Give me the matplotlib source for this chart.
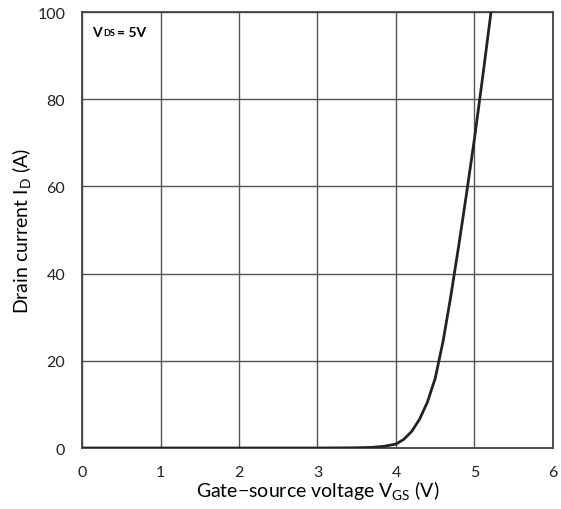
import matplotlib.pyplot as plt
import numpy as np

# duong dac tinh truyen dat ID - VGS (doc tu hinh)
vgs = np.array([0, 3.0, 3.5, 3.7, 3.85, 4.0, 4.1, 4.2, 4.3, 4.4, 4.5, 4.6, 4.7, 4.8, 4.9, 5.0, 5.1, 5.2, 5.21])
i_d = np.array([0, 0, 0.05, 0.15, 0.4, 0.9, 2.0, 3.8, 6.6, 10.5, 16, 24.5, 35, 46.5, 58.5, 71, 84.5, 98.5, 100])

xticks = [0, 1, 2, 3, 4, 5, 6]
yticks = [0, 20, 40, 60, 80, 100]

plt.rcParams['font.family'] = ['Lato', 'DejaVu Sans']
plt.rcParams['mathtext.fontset'] = 'custom'
plt.rcParams['mathtext.rm'] = 'Lato'

fig = plt.figure(figsize=(5.61, 5.10), dpi=100)
ax = fig.add_axes([0.1462, 0.1196, 0.8395, 0.8549])

ax.plot(vgs, i_d, color='#222222', lw=2.0, zorder=3, solid_joinstyle='round')

ax.set_xlim(0, 6)
ax.set_ylim(0, 100)
ax.set_xticks(xticks)
ax.set_yticks(yticks)
ax.grid(True, color='#555555', lw=1.0)
ax.tick_params(length=0, labelsize=11.5, colors='#222222', pad=12)
for s in ax.spines.values():
    s.set_color('#444444')
    s.set_linewidth(1.3)

ax.set_xlabel('Gate\u2212source voltage V$_\\mathregular{GS}$ (V)', fontsize=14, labelpad=0)
ax.set_ylabel('Drain current I$\\mathregular{_D}$ (A)', fontsize=14, labelpad=3)

ax.text(0.13, 95.5, 'V', fontsize=10, fontweight='bold', va='center')
ax.text(0.27, 95.2, 'DS', fontsize=6.5, fontweight='bold', va='center')
ax.text(0.44, 95.5, '= 5V', fontsize=10, fontweight='bold', va='center')

plt.savefig('out.png', dpi=100)
